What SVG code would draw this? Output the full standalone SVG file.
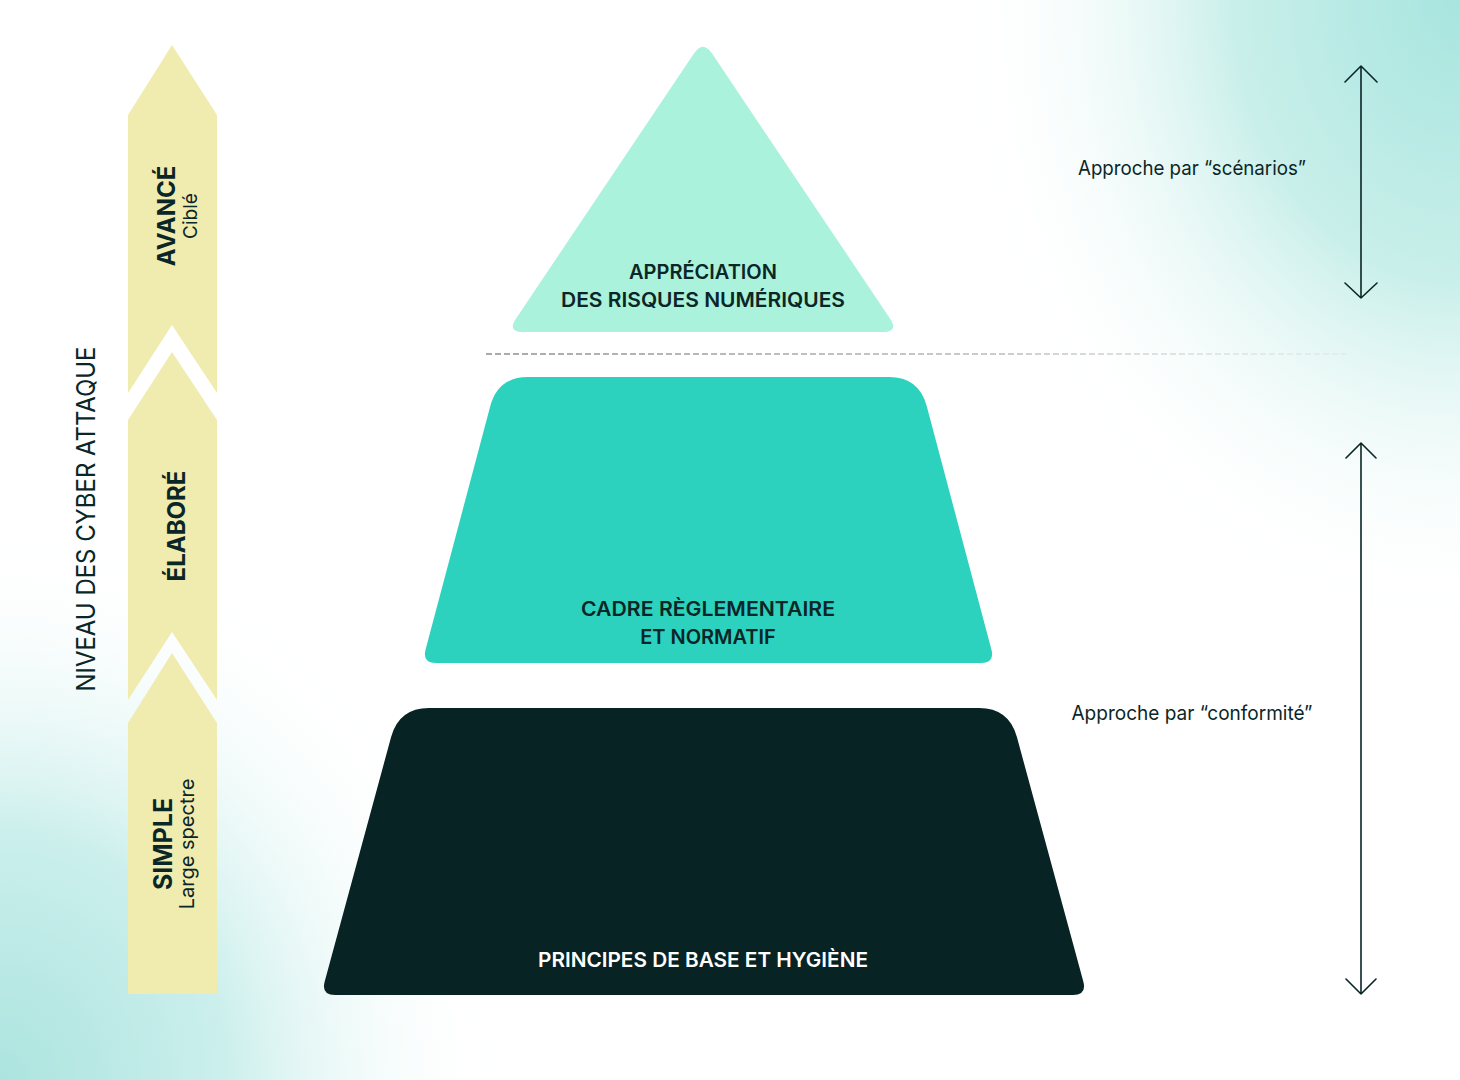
<svg xmlns="http://www.w3.org/2000/svg" width="1460" height="1080" viewBox="0 0 1460 1080">
<defs>
<radialGradient id="gTR" gradientUnits="userSpaceOnUse" cx="1460" cy="0" r="500" gradientTransform="translate(1460 0) scale(1 1.25) translate(-1460 0)">
<stop offset="0" stop-color="#a8e5df"/>
<stop offset="0.45" stop-color="#c9efea"/>
<stop offset="1" stop-color="#ffffff" stop-opacity="0"/>
</radialGradient>
<radialGradient id="gBL" gradientUnits="userSpaceOnUse" cx="0" cy="1080" r="500" gradientTransform="translate(0 1080) scale(1 1.1) translate(0 -1080)">
<stop offset="0" stop-color="#ace4df"/>
<stop offset="0.45" stop-color="#cbefec"/>
<stop offset="1" stop-color="#ffffff" stop-opacity="0"/>
</radialGradient>
<linearGradient id="gDash" gradientUnits="userSpaceOnUse" x1="486" y1="0" x2="1350" y2="0">
<stop offset="0" stop-color="#555555"/>
<stop offset="0.6" stop-color="#9a9a9a"/>
<stop offset="1" stop-color="#cfcfcf" stop-opacity="0.4"/>
</linearGradient>
<style>
.lvl{fill:#f0ecb0}
.t{font-family:Inter,"Liberation Sans",Arial,sans-serif;fill:#0b2626}
.b{font-weight:700}
.m{font-weight:600}
.ax{fill:none;stroke:#0b2626;stroke-width:1.6;stroke-linecap:round;stroke-linejoin:round}
</style>
</defs>
<rect width="1460" height="1080" fill="#ffffff"/>
<rect width="1460" height="1080" fill="url(#gTR)"/>
<rect width="1460" height="1080" fill="url(#gBL)"/>

<g id="niveau-axis">
<text class="t" font-size="26" text-anchor="middle" textLength="345" lengthAdjust="spacingAndGlyphs" transform="translate(95 519) rotate(-90)">NIVEAU DES CYBER ATTAQUE</text>
</g>

<g id="level-avance">
<polygon class="lvl" points="172,45 217,115 217,393 172,325 128,393 128,115"/>
<text class="t b" font-size="24" text-anchor="middle" transform="translate(175 216) rotate(-90)">AVANCÉ</text>
<text class="t" font-size="19" text-anchor="middle" transform="translate(197 216) rotate(-90)">Ciblé</text>
</g>
<g id="level-elabore">
<polygon class="lvl" points="172,352 217,420 217,700 172,632 128,700 128,420"/>
<text class="t b" font-size="24" text-anchor="middle" transform="translate(185 526) rotate(-90)">ÉLABORÉ</text>
</g>
<g id="level-simple">
<polygon class="lvl" points="172,653 217,723 217,994 128,994 128,723"/>
<text class="t b" font-size="25" text-anchor="middle" transform="translate(172 844) rotate(-90)">SIMPLE</text>
<text class="t" font-size="20" text-anchor="middle" transform="translate(194 844) rotate(-90)">Large spectre</text>
</g>

<g id="connectors">
<line x1="486" y1="354" x2="1350" y2="354" stroke="url(#gDash)" stroke-width="1.2" stroke-dasharray="6 3"/>
<path class="ax" d="M1361 66 V298 M1345 82 L1361 66 L1377 82 M1345 283 L1361 298 L1377 283"/>
<path class="ax" d="M1361 443 V994 M1346 458 L1361 443 L1376 458 M1346 979 L1361 994 L1376 979"/>
</g>

<g id="pyr-risques">
<path fill="#aaf2db" d="M711.9,53.3 L890.1,318.7 Q899,332 883,332 L523,332 Q507,332 515.9,318.7 L694.1,53.3 Q703,40 711.9,53.3 Z"/>
<text class="t m" font-size="20" text-anchor="middle" x="703" y="279">APPRÉCIATION</text>
<text class="t m" font-size="20" text-anchor="middle" x="703" y="307" textLength="284" lengthAdjust="spacingAndGlyphs">DES RISQUES NUMÉRIQUES</text>
</g>

<g id="pyr-cadre">
<path fill="#2cd2be" d="M528,377 L889,377 Q919,377 926.7,406 L991.4,649.5 Q995,663 981,663 L436,663 Q422,663 425.6,649.5 L490.3,406 Q498,377 528,377 Z"/>
<text class="t m" font-size="20" text-anchor="middle" x="708" y="616" textLength="254" lengthAdjust="spacingAndGlyphs">CADRE RÈGLEMENTAIRE</text>
<text class="t m" font-size="20" text-anchor="middle" x="708" y="644">ET NORMATIF</text>
</g>

<g id="pyr-principes">
<path fill="#082323" d="M429,708 L979,708 Q1009,708 1016.9,737 L1083.3,981.5 Q1087,995 1073,995 L335,995 Q321,995 324.7,981.5 L391.1,737 Q399,708 429,708 Z"/>
<text class="t m" font-size="20" text-anchor="middle" x="703" y="967" style="fill:#ffffff" textLength="330" lengthAdjust="spacingAndGlyphs">PRINCIPES DE BASE ET HYGIÈNE</text>
</g>

<g id="label-scenarios">
<text class="t" font-size="20" text-anchor="middle" x="1192" y="175" textLength="228" lengthAdjust="spacingAndGlyphs">Approche par “scénarios”</text>
</g>
<g id="label-conformite">
<text class="t" font-size="20" text-anchor="middle" x="1192" y="720" textLength="241" lengthAdjust="spacingAndGlyphs">Approche par “conformité”</text>
</g>
</svg>
